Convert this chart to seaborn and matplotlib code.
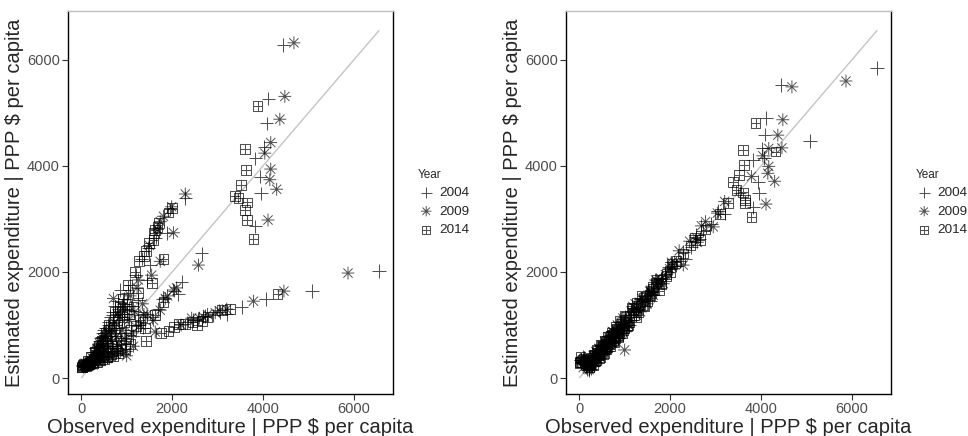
#!/usr/bin/env python3
"""
Observed vs estimated expenditure for two model variants, by year.
"""

import matplotlib
matplotlib.use('Agg')
import matplotlib.pyplot as plt
from matplotlib.path import Path
import seaborn as sns
import pandas as pd

# --- data (observed, estimated by model A, estimated by model B) ---
obs_2004 = [6550, 5080, 4450, 4120, 4080, 4030, 3830, 3940, 3960, 3830, 4070, 3530, 3200, 2910,
            2470, 2290, 2650, 2210, 2140, 1880, 1440, 860, 1260, 1520, 1700, 1560, 1350, 1100,
            1000, 950, 900, 820, 760, 700, 650, 600, 560, 520, 480, 450, 420, 390, 360, 330,
            300, 280, 250, 220, 200, 180, 150, 120, 90, 60, 40, 1150, 1250, 980, 880, 780,
            680, 580, 1800, 2050,
            2560, 2720, 3050, 2330, 1960, 1640, 1480, 1330, 1200, 1080, 1020, 930, 860, 800,
            740, 690, 640, 610, 540, 500, 470, 440, 410, 380, 350, 320, 290, 260, 230, 210,
            170, 140, 110, 80, 50, 30]
estA_2004 = [2020, 1640, 6280, 5270, 4800, 4360, 4140, 3800, 3480, 2860, 1490, 1340, 1210, 1180,
             1090, 3390, 2350, 1820, 1580, 2730, 1850, 1660, 1470, 2130, 1300, 1150, 950, 1350,
             1200, 1500, 1100, 1300, 950, 1180, 800, 1000, 700, 850, 600, 780, 520, 650, 480, 560,
             420, 380, 350, 320, 300, 290, 270, 260, 250, 240, 230, 800, 1000, 700, 650, 560,
             520, 480, 1500, 1650,
             1120, 1170, 1250, 1050, 3180, 2650, 2450, 2250, 1950, 1750, 1600, 1400, 1200, 1450,
             1350, 1250, 1150, 1050, 950, 900, 850, 750, 700, 620, 580, 500, 460, 400, 380, 330,
             310, 290, 270, 260, 250, 240]
estB_2004 = [5850, 4470, 5530, 4900, 4590, 4330, 4110, 3700, 3480, 3220, 4150, 3490, 3100, 2900,
             2470, 2380, 2620, 2200, 2120, 1950, 1500, 950, 1300, 1560, 1850, 1450, 1500, 1000,
             1150, 850, 1050, 720, 900, 620, 800, 560, 700, 450, 600, 420, 550, 350, 480, 300,
             420, 230, 330, 180, 280, 160, 260, 300, 330, 310, 340, 1100, 1280, 980, 850, 800,
             690, 590, 1880, 2080,
             2700, 2780, 3150, 2250, 2100, 1560, 1620, 1450, 1330, 1180, 900, 1050, 760, 920,
             860, 800, 740, 520, 650, 600, 560, 380, 520, 480, 440, 250, 380, 180, 320, 150,
             230, 200, 380, 400, 280, 350]

obs_2009 = [5870, 4680, 4480, 4370, 4170, 4040, 4170, 4150, 4300, 4110, 4460, 3790, 3200, 3040,
            2690, 2430, 2290, 2580, 2030, 2030, 1990, 1810, 1740, 1740, 1550, 1740, 1590, 1630,
            1000, 710, 1230, 1350, 1180, 1050, 960, 900, 840, 780, 730, 680, 640, 600, 560,
            520, 490, 460, 430, 400, 370, 340, 310, 280, 250, 230, 200, 170, 130, 100, 70,
            1120, 1300, 950, 820, 700, 1450, 1900,
            2600, 2780, 2950, 2200, 2100, 1850, 1680, 1500, 1380, 1260, 1150, 1080, 990, 920,
            860, 800, 750, 700, 660, 620, 580, 540, 500, 470, 440, 410, 380, 350, 320, 290,
            260, 220, 190, 150, 120, 90, 50]
estA_2009 = [1980, 6320, 5310, 4880, 4440, 4240, 3940, 3740, 3560, 2980, 1640, 1450, 1300, 1270,
             1150, 1130, 3470, 2130, 2740, 1660, 3230, 3050, 2950, 2200, 1940, 1280, 1090, 870,
             420, 1500, 1700, 1400, 1250, 1100, 1280, 900, 1150, 780, 1050, 900, 720, 850, 650,
             780, 560, 700, 500, 600, 450, 520, 400, 350, 330, 310, 290, 270, 260, 250, 240,
             850, 1000, 750, 640, 560, 1200, 1550,
             1130, 1200, 1230, 1000, 1700, 1500, 2800, 2500, 1200, 1850, 600, 1550, 500, 1350,
             480, 1200, 450, 1000, 400, 900, 380, 800, 350, 750, 320, 650, 300, 560, 280, 480,
             250, 400, 240, 300, 230, 280, 220]
estB_2009 = [5600, 5490, 4870, 4580, 4330, 4190, 3990, 3860, 3710, 3280, 4340, 3800, 3330, 3110,
             2870, 2580, 2130, 2650, 2180, 2100, 2060, 1870, 1800, 1820, 1640, 1750, 1620, 1560,
             530, 800, 1400, 1250, 1350, 950, 1130, 820, 1000, 700, 880, 620, 780, 540, 700,
             460, 620, 400, 560, 340, 500, 290, 430, 260, 200, 180, 220, 280, 310, 340, 300,
             1080, 1270, 930, 780, 660, 1480, 1950,
             2560, 2950, 2850, 2400, 2180, 1780, 1850, 1400, 1500, 1180, 1250, 1000, 1100, 850,
             980, 720, 870, 650, 780, 560, 680, 500, 620, 430, 550, 360, 490, 300, 420, 230,
             350, 160, 300, 250, 380, 200, 330]

obs_2014 = [3880, 3600, 3620, 3520, 3390, 3460, 3640, 3600, 3650, 3790, 4320, 3280, 2650, 2290,
            2140, 1920, 1990, 1920, 1720, 1630, 1600, 1590, 1420, 1280, 1810, 1550, 1810, 1630,
            1410, 1430, 1250, 1150, 1060, 1000, 950, 900, 850, 800, 760, 720, 680, 640, 600,
            560, 520, 480, 440, 400, 360, 320, 280, 240, 200, 160, 120, 80, 40, 20, 1100,
            1200, 980, 880, 780, 660, 560, 1350,
            2450, 2550, 2780, 3100, 2050, 1750, 1680, 1500, 1380, 1300, 1180, 1080, 1020, 960,
            910, 860, 820, 740, 700, 620, 580, 540, 500, 460, 420, 380, 340, 300, 260, 220,
            180, 140, 100, 60, 30, 10]
estA_2014 = [5130, 4320, 3920, 3640, 3430, 3390, 3310, 3170, 2980, 2620, 1580, 1310, 1080, 1020,
             1020, 880, 3200, 3120, 2920, 2790, 2730, 2600, 2400, 2200, 2240, 1790, 1440, 1190,
             940, 700, 1600, 1350, 1200, 1400, 1050, 1250, 850, 1100, 700, 950, 600, 800, 560,
             700, 500, 620, 450, 520, 400, 420, 340, 310, 280, 270, 250, 240, 230, 210, 900,
             980, 760, 620, 520, 450, 400, 1150,
             1050, 1000, 1150, 1280, 960, 850, 2850, 2550, 2300, 1100, 2000, 650, 1750, 550,
             1500, 1350, 480, 1250, 420, 1000, 400, 850, 350, 700, 330, 600, 300, 500, 290, 400,
             260, 320, 220, 270, 250, 200]
estB_2014 = [4810, 4300, 4020, 3830, 3690, 3550, 3350, 3500, 3300, 3030, 4270, 3300, 2600, 2350,
             2200, 1960, 2000, 1930, 1860, 1720, 1650, 1600, 1520, 1420, 1800, 1560, 1780, 1680,
             1380, 1350, 1150, 1330, 980, 1180, 850, 1080, 780, 960, 680, 860, 600, 780, 540,
             700, 460, 620, 380, 540, 320, 440, 340, 290, 260, 300, 330, 350, 300, 310, 1050,
             1180, 950, 840, 750, 640, 560, 1400,
             2500, 2650, 2800, 3100, 2150, 1650, 1800, 1450, 1550, 1250, 1300, 1000, 1150, 900,
             1020, 800, 920, 700, 800, 580, 680, 470, 590, 400, 520, 330, 440, 250, 380, 200,
             330, 280, 360, 300, 390, 280]

years = ['2004', '2009', '2014']

# line-art marker shapes (R pch 3, 8 and 12)
plus = Path([(0, -1), (0, 1), (-1, 0), (1, 0)],
            [Path.MOVETO, Path.LINETO, Path.MOVETO, Path.LINETO])
d = 0.72
star = Path([(0, -1), (0, 1), (-1, 0), (1, 0), (-d, -d), (d, d), (-d, d), (d, -d)],
            [Path.MOVETO, Path.LINETO] * 4)
box_plus = Path(
    [(-1, -1), (1, -1), (1, 1), (-1, 1), (-1, -1), (0, -1), (0, 1), (-1, 0), (1, 0)],
    [Path.MOVETO, Path.LINETO, Path.LINETO, Path.LINETO, Path.CLOSEPOLY,
     Path.MOVETO, Path.LINETO, Path.MOVETO, Path.LINETO])

markers = {'2004': plus, '2009': star, '2014': box_plus}
sizes = {'2004': 95, '2009': 85, '2014': 50}

df = pd.concat([
    pd.DataFrame({'obs': obs_2004, 'A': estA_2004, 'B': estB_2004, 'Year': '2004'}),
    pd.DataFrame({'obs': obs_2009, 'A': estA_2009, 'B': estB_2009, 'Year': '2009'}),
    pd.DataFrame({'obs': obs_2014, 'A': estA_2014, 'B': estB_2014, 'Year': '2014'}),
], ignore_index=True)

sns.set_style('white')
plt.rcParams['font.family'] = ['Liberation Sans', 'DejaVu Sans']

fig = plt.figure(figsize=(9.68, 4.36), dpi=100)
ax_left = fig.add_axes([68 / 968, 42 / 436, 325 / 968, 383 / 436])
ax_right = fig.add_axes([566 / 968, 42 / 436, 325 / 968, 383 / 436])

ink = (0, 0, 0, 0.68)
lo, hi = df['obs'].min(), df['obs'].max()

for ax, col in [(ax_left, 'A'), (ax_right, 'B')]:
    # identity line across the observed range
    sns.lineplot(x=[lo, hi], y=[lo, hi], ax=ax, color='#c4c4c4', linewidth=1, zorder=1)
    for yr in years:
        sub = df[df['Year'] == yr]
        sns.scatterplot(x=sub['obs'], y=sub[col], ax=ax, marker=markers[yr],
                        s=sizes[yr], facecolor='none', edgecolor=ink,
                        linewidth=0.7 if yr == '2009' else 0.75,
                        label=yr, zorder=2)

    ax.set_xlim(-290, 6860)
    ax.set_ylim(-300, 6920)
    ax.set_xticks([0, 2000, 4000, 6000])
    ax.set_yticks([0, 2000, 4000, 6000])
    ax.tick_params(axis='both', which='major', length=4, width=0.8, color='#333333',
                   labelsize=10.5, labelcolor='#4d4d4d', pad=2, direction='out',
                   bottom=True, left=True)
    for side in ['left', 'bottom', 'right']:
        ax.spines[side].set_color('black')
        ax.spines[side].set_linewidth(1)
    ax.spines['top'].set_color('#bdbdbd')
    ax.spines['top'].set_linewidth(1)

    ax.set_xlabel('Observed expenditure | PPP $ per capita', fontsize=14.5, labelpad=1)
    ax.set_ylabel('Estimated expenditure | PPP $ per capita', fontsize=14.5, labelpad=2)

    leg = ax.legend(title='Year', loc='center left', bbox_to_anchor=(1.04, 0.5),
                    frameon=False, fontsize=9.7, title_fontsize=8.5,
                    handletextpad=0.4, labelspacing=0.45, markerscale=0.8,
                    handlelength=1.2)
    leg._legend_box.align = 'left'

fig.savefig('out.png', dpi=100)
